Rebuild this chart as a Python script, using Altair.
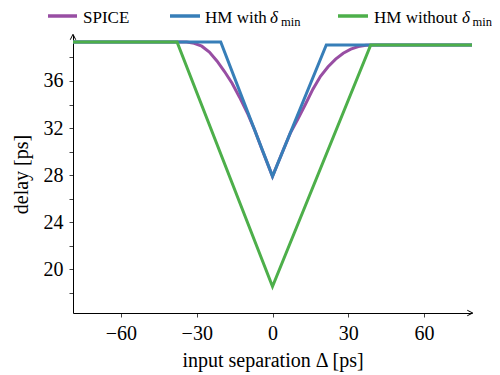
import altair as alt
import pandas as pd

series_names = ["SPICE", "HM with δmin", "HM without δmin"]
series_colors = ["#984ea3", "#377eb8", "#4daf4a"]

# legend text pieces
legend_main = ["SPICE", "HM with", "HM without"]
legend_greek = ["", "δ", "δ"]
legend_sub = ["", "min", "min"]

spice_x = [-79, -34, -31, -28, -25, -22, -19, -16, -13, -10, -7, -4, -2, 0,
           2, 4, 7, 10, 13, 16, 19, 22, 25, 28, 31, 34, 37, 40, 79]
spice_y = [39.3, 39.3, 39.2, 38.95, 38.45, 37.7, 36.8, 35.8, 34.6, 33.3, 31.8, 30.1, 29.0, 27.9,
           28.95, 30.0, 31.55, 32.75, 34.0, 35.3, 36.4, 37.2, 37.85, 38.35, 38.7, 38.92, 39.03, 39.05, 39.05]

hm_with_x = [-79, -20.5, 0, 21.3, 79]
hm_with_y = [39.3, 39.3, 27.9, 39.05, 39.05]

hm_without_x = [-79, -37.8, 0, 38.9, 79]
hm_without_y = [39.3, 39.3, 18.55, 39.05, 39.05]

x_ticks = [-60, -30, 0, 30, 60]
y_ticks = [18, 20, 22, 24, 26, 28, 30, 32, 34, 36, 38]

rows = []
for name, xs, ys in zip(series_names,
                        [spice_x, hm_with_x, hm_without_x],
                        [spice_y, hm_with_y, hm_without_y]):
    for i, (xv, yv) in enumerate(zip(xs, ys)):
        rows.append({"series": name, "x": xv, "y": yv, "i": i})
df = pd.DataFrame(rows)

W, H = 399, 278
FONT = "Liberation Serif"

color = alt.Color(
    "series:N",
    scale=alt.Scale(domain=series_names, range=series_colors),
    legend=None,
)

xenc = alt.X(
    "x:Q",
    scale=alt.Scale(domain=[-79, 79], nice=False, zero=False),
    axis=alt.Axis(
        values=x_ticks, title="input separation Δ [ps]",
        titleY=53, titleBaseline="alphabetic",
    ),
)
yenc = alt.Y(
    "y:Q",
    scale=alt.Scale(domain=[16.3, 39.9], nice=False, zero=False),
    axis=alt.Axis(
        values=y_ticks, title="delay [ps]",
        labelExpr="datum.value % 4 == 0 ? datum.label : ''",
        titleX=-52, titleY=H / 2, titleBaseline="middle",
    ),
)

layers = []
for name in series_names:
    layers.append(
        alt.Chart(df)
        .transform_filter(alt.datum.series == name)
        .mark_line(strokeWidth=3, strokeJoin="miter", clip=True)
        .encode(x=xenc, y=yenc, color=color, order="i:Q")
    )

one = pd.DataFrame({"k": [0]})
up_arrow = alt.Chart(one).mark_point(
    shape="M-1,1L0,-1L1,1", size=30, filled=False, stroke="black", strokeWidth=1, opacity=1
).encode(x=alt.value(0), y=alt.value(2))
right_arrow = alt.Chart(one).mark_point(
    shape="M-1,-1L1,0L-1,1", size=30, filled=False, stroke="black", strokeWidth=1, opacity=1
).encode(x=alt.value(W - 2), y=alt.value(H))

# manual legend above the plot (pixel offsets from plot origin)
sym_x0 = [-25, 97, 265]
sym_x1 = [4, 127, 295]
txt_x = [10, 132, 301]
greek_x = [0, 197, 389]
sub_x = [0, 208, 399.5]
sym_y = -19
txt_y = -11.7
sub_y = -8.7

legend_layers = []
for k in range(3):
    legend_layers.append(
        alt.Chart(one).mark_rule(strokeWidth=3.5, color=series_colors[k]).encode(
            x=alt.value(sym_x0[k]), x2=alt.value(sym_x1[k]), y=alt.value(sym_y)
        )
    )
    legend_layers.append(
        alt.Chart(one).mark_text(
            text=legend_main[k], font=FONT, fontSize=17, align="left",
            baseline="alphabetic", color="black",
        ).encode(x=alt.value(txt_x[k]), y=alt.value(txt_y))
    )
    if legend_greek[k]:
        legend_layers.append(
            alt.Chart(one).mark_text(
                text=legend_greek[k], font=FONT, fontSize=17, fontStyle="italic",
                align="left", baseline="alphabetic", color="black",
            ).encode(x=alt.value(greek_x[k]), y=alt.value(txt_y))
        )
        legend_layers.append(
            alt.Chart(one).mark_text(
                text=legend_sub[k], font=FONT, fontSize=12.5,
                align="left", baseline="alphabetic", color="black",
            ).encode(x=alt.value(sub_x[k]), y=alt.value(sub_y))
        )

chart = (
    alt.layer(*layers, up_arrow, right_arrow, *legend_layers)
    .properties(
        width=W, height=H,
        autosize=alt.AutoSizeParams(type="none"),
        padding={"left": 65, "top": 27, "right": 20, "bottom": 59},
    )
    .configure_view(stroke=None)
    .configure_axis(
        grid=False, domainColor="black", domainWidth=1,
        tickColor="#444", tickSize=4, tickWidth=1,
        labelFont=FONT, labelFontSize=20, labelColor="black", labelPadding=6,
        titleFont=FONT, titleFontSize=20, titleFontWeight="normal", titleColor="black",
    )
)

chart.save("out.html", embed_options={"renderer": "svg", "actions": False})
